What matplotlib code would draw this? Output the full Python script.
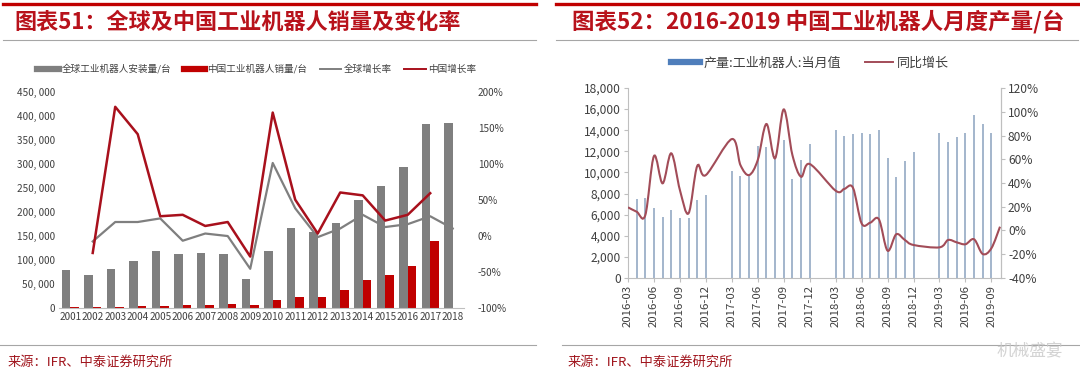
import numpy as np
import matplotlib.pyplot as plt
from matplotlib.path import Path
from matplotlib.patches import PathPatch
from matplotlib.lines import Line2D
from matplotlib.ticker import FuncFormatter

plt.rcParams['font.family'] = ['Noto Sans CJK SC', 'DejaVu Sans']

# ---- chart 51: yearly data ----
years = [str(y) for y in range(2001, 2019)]
global_installs = [78000, 68000, 81000, 97000, 119000, 111000, 113000, 112000, 60000,
                   119000, 165000, 158000, 177000, 225000, 253000, 294000, 382000, 385000]
china_sales = [700, 500, 1500, 3500, 4500, 5800, 6600, 7900, 5500,
               15000, 22600, 23000, 36600, 57000, 68500, 87000, 138000, np.nan]
global_growth = [np.nan, -8, 19, 19, 24, -7, 3, -0.5, -46,
                 101, 38, -2, 10, 29, 12, 16, 27, 10]
china_growth = [np.nan, -24, 179, 141, 27, 29, 13.5, 19, -29,
                171, 50, 3, 60, 56, 21, 29, 59, np.nan]

# ---- chart 52: monthly data ----
months = [f"{y}-{m:02d}" for y in range(2016, 2020) for m in range(1, 13)]
months = months[2:months.index("2019-10") + 1]
robot_output = [4100, 7450, 7550, 6650, 5800, 6450, 5700, 5650, 7400, 7850,
                np.nan, np.nan,
                10150, 9650, 9750, 12550, 12450, 11350, 13050, 9400, 11200, 12650,
                np.nan, np.nan,
                14000, 13500, 13650, 13750, 13650, 14000, 11400, 9600, 11100, 11950,
                np.nan, np.nan,
                13700, 12900, 13350, 13700, 15450, 14550, 13750, np.nan]
output_yoy = [19.5, 15.8, 13, 62.7, 39.7, 65, 34, 14.5, 54.3, 46.7,
              np.nan, np.nan,
              77, 55, 46.7, 59.4, 89.7, 60.8, 102, 63.6, 45.3, 56,
              np.nan, np.nan,
              33.5, 35, 36, 6, 6.6, 9.4, -17, -3.2, -8, -12.2,
              np.nan, np.nan,
              -14.2, -8, -10, -11.6, -7.4, -19.8, -15, 3.2]

RED = '#C00000'
GRAY = '#7F7F7F'
AXIS_GRAY = '#BFBFBF'
BAR_BLUE = '#8AA2BE'
LINE_MAUVE = '#A24C58'


def smooth_path(x, y):
    """Excel-like smoothed line: Catmull-Rom segments as cubic Beziers."""
    pts = np.column_stack([x, y])
    pts = pts[~np.isnan(pts[:, 1])]
    verts, codes = [pts[0]], [Path.MOVETO]
    n = len(pts)
    for i in range(n - 1):
        p0, p1 = pts[max(i - 1, 0)], pts[i]
        p2, p3 = pts[i + 1], pts[min(i + 2, n - 1)]
        verts += [p1 + (p2 - p0) / 6, p2 - (p3 - p1) / 6, p2]
        codes += [Path.CURVE4] * 3
    return Path(verts, codes)


fig = plt.figure(figsize=(10.8, 3.75), dpi=100)

# ---------------- left chart ----------------
ax = fig.add_axes([0.0546, 0.1795, 0.375, 0.576])
x = np.arange(len(years))
w = 0.38
ax.bar(x - w / 2, global_installs, w, color=GRAY, label='全球工业机器人安装量/台')
ax.bar(x + w / 2, china_sales, w, color=RED, label='中国工业机器人销量/台')
ax.set_xlim(-0.5, len(years) - 0.5)
ax.set_ylim(0, 450000)
ax.set_yticks(np.arange(0, 450001, 50000))
ax.yaxis.set_major_formatter(FuncFormatter(lambda v, p: f"{int(v):,}".replace(",", ", ")))
ax.set_xticks(x)
ax.set_xticklabels(years)
ax.tick_params(axis='both', length=0, labelsize=7.2, colors='#404040', pad=3)
for s in ['top', 'left', 'right']:
    ax.spines[s].set_visible(False)
ax.spines['bottom'].set_color(AXIS_GRAY)

axr = ax.twinx()
axr.plot(x, global_growth, color=GRAY, lw=1.6, label='全球增长率')
axr.plot(x, china_growth, color='#A8101C', lw=1.8, label='中国增长率')
axr.set_ylim(-100, 200)
axr.set_yticks(np.arange(-100, 201, 50))
axr.yaxis.set_major_formatter(FuncFormatter(lambda v, p: f"{int(v)}%"))
axr.tick_params(axis='y', length=0, labelsize=7.2, colors='#404040', pad=10)
for s in axr.spines.values():
    s.set_visible(False)

handles = [Line2D([], [], color=GRAY, lw=4.5), Line2D([], [], color=RED, lw=4.5),
           Line2D([], [], color=GRAY, lw=1.4), Line2D([], [], color='#A8101C', lw=1.4)]
labels = ['全球工业机器人安装量/台', '中国工业机器人销量/台', '全球增长率', '中国增长率']
fig.legend(handles, labels, loc='center', bbox_to_anchor=(0.238, 0.816), ncol=4,
           frameon=False, fontsize=6.9, handlelength=2.2, handletextpad=0.3,
           columnspacing=1.3, labelcolor='#404040')

# ---------------- right chart ----------------
ax2 = fig.add_axes([0.5815, 0.2587, 0.3454, 0.5066])
mx = np.arange(len(months))
ax2.vlines(mx, 0, robot_output, color=BAR_BLUE, lw=1.1)
ax2.set_xlim(0, len(months) - 1 + 0.12)
ax2.set_ylim(0, 18000)
ax2.set_yticks(np.arange(0, 18001, 2000))
ax2.yaxis.set_major_formatter(FuncFormatter(lambda v, p: f"{int(v):,}"))
ax2.set_xticks(mx[::3])
ax2.set_xticklabels(months[::3], rotation=90)
ax2.tick_params(axis='both', length=3, color=AXIS_GRAY, labelsize=8.6,
                colors='#404040', pad=2)
ax2.tick_params(axis='x', labelsize=8.2)
ax2.spines['top'].set_visible(False)
for s in ['left', 'bottom', 'right']:
    ax2.spines[s].set_color(AXIS_GRAY)

ax2r = ax2.twinx()
ax2r.set_ylim(-40, 120)
ax2r.set_yticks(np.arange(-40, 121, 20))
ax2r.yaxis.set_major_formatter(FuncFormatter(lambda v, p: f"{int(v)}%"))
ax2r.tick_params(axis='y', length=3, color=AXIS_GRAY, labelsize=8.6,
                 colors='#404040', pad=2)
ax2r.spines['top'].set_visible(False)
ax2r.spines['right'].set_color(AXIS_GRAY)
ax2r.spines['left'].set_visible(False)
ax2r.spines['bottom'].set_visible(False)
ax2r.add_patch(PathPatch(smooth_path(mx, np.array(output_yoy, dtype=float)),
                         facecolor='none', edgecolor=LINE_MAUVE, lw=1.5))

handles2 = [Line2D([], [], color='#4F7EBB', lw=4.5), Line2D([], [], color=LINE_MAUVE, lw=1.4)]
fig.legend(handles2, ['产量:工业机器人:当月值', '同比增长'], loc='center',
           bbox_to_anchor=(0.75, 0.832), ncol=2, frameon=False, fontsize=9.4,
           handlelength=2.2, handletextpad=0.3, columnspacing=1.8, labelcolor='#404040')

# ---------------- frame: titles, rules, sources ----------------
def hline(x0, x1, y, color, lw):
    fig.add_artist(Line2D([x0 / 1080, x1 / 1080], [1 - y / 375, 1 - y / 375],
                          color=color, lw=lw, transform=fig.transFigure))

hline(3, 536, 4, RED, 2.4)
hline(556, 1080, 4, RED, 2.4)
hline(3, 536, 40, '#A6A6A6', 0.8)
hline(556, 1078, 40, '#A6A6A6', 0.8)
hline(0, 536, 345, '#A6A6A6', 0.8)
hline(562, 1080, 345, '#A6A6A6', 0.8)

fig.text(14 / 1080, 1 - 22 / 375, '图表51：全球及中国工业机器人销量及变化率', color='#B8121B',
         fontsize=15.9, fontweight='bold', va='center', ha='left')
fig.text(572 / 1080, 1 - 22 / 375, '图表52：2016-2019 中国工业机器人月度产量/台', color='#B8121B',
         fontsize=16.2, fontweight='bold', va='center', ha='left')
fig.text(8 / 1080, 1 - 362 / 375, '来源：IFR、中泰证券研究所', color='#A0141C',
         fontsize=9.5, va='center', ha='left')
fig.text(568 / 1080, 1 - 362 / 375, '来源：IFR、中泰证券研究所', color='#A0141C',
         fontsize=9.5, va='center', ha='left')
fig.text(1030 / 1080, 1 - 352 / 375, '机械盛宴', color='#C8C8C8', fontsize=12,
         va='center', ha='center', alpha=0.8)

fig.savefig('out.png', dpi=100, facecolor='white')
